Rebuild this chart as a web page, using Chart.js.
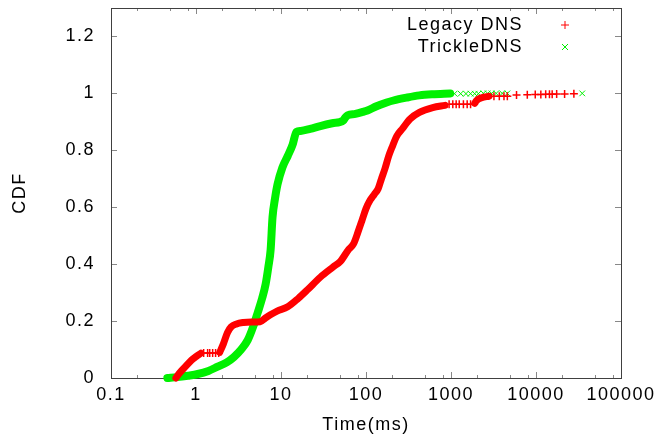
<!DOCTYPE html>
<html>
<head>
<meta charset="utf-8">
<script src="https://cdn.jsdelivr.net/npm/chart.js@4.4.1/dist/chart.umd.min.js"></script>
<style>
  html, body { margin: 0; padding: 0; background: #fff; }
  canvas { display: block; }
</style>
</head>
<body>
<canvas id="cdf" width="659" height="444"></canvas>
<script>
// series names
const seriesNames = ["Legacy DNS", "TrickleDNS"];

// Legacy DNS: dense part of the curve (drawn as a thick band)
const legacyX = [0.58, 0.63, 0.75, 0.88, 1.0, 1.14, null, 1.9, 2.1, 2.35, 2.6, 3.0, 3.6, 4.5, 5.7, 6.5, 7.5, 9, 12, 16, 20.5, 29, 41, 50, 62, 71, 82, 90, 100, 112, 125, 139, 152, 167, 185, 202, 230, 270, 330, 425, 610, 850, null, 1900, 2000, 2300, 2800];
const legacyY = [0.0, 0.015, 0.04, 0.062, 0.075, 0.087, null, 0.09, 0.12, 0.16, 0.18, 0.19, 0.195, 0.197, 0.198, 0.21, 0.222, 0.235, 0.25, 0.28, 0.31, 0.354, 0.39, 0.41, 0.45, 0.47, 0.52, 0.555, 0.595, 0.625, 0.645, 0.665, 0.7, 0.735, 0.78, 0.81, 0.85, 0.877, 0.91, 0.933, 0.95, 0.958, null, 0.965, 0.975, 0.985, 0.99];
// Legacy DNS: isolated samples (drawn as + marks)
const legacyMarkX = [1.23, 1.37, 1.45, 1.57, 1.7, 1.85, 950, 1050, 1150, 1250, 1400, 1550, 1700, 3200, 3700, 4200, 4600, 5900, 7900, 9800, 11400, 13000, 14400, 15500, 17500, 21700, 27900];
const legacyMarkY = [0.088, 0.088, 0.088, 0.088, 0.088, 0.088, 0.962, 0.962, 0.962, 0.962, 0.962, 0.962, 0.962, 0.99, 0.99, 0.99, 0.99, 0.994, 0.995, 0.996, 0.996, 0.997, 0.997, 0.997, 0.998, 0.998, 0.999];

// TrickleDNS: dense part of the curve
const trickleX = [0.46, 0.6, 0.8, 1.05, 1.4, 1.8, 2.3, 2.8, 3.4, 4.06, 4.7, 5.3, 6.0, 6.6, 7.1, 7.55, 7.95, 8.5, 9.1, 10.4, 12, 13.7, 15.2, 17, 22, 29, 40, 54, 57, 61, 75, 92, 104, 133, 175, 210, 300, 425, 600, 980];
const trickleY = [0.0, 0.003, 0.008, 0.014, 0.025, 0.04, 0.055, 0.074, 0.1, 0.133, 0.18, 0.228, 0.28, 0.33, 0.39, 0.45, 0.565, 0.63, 0.68, 0.74, 0.78, 0.82, 0.865, 0.868, 0.875, 0.885, 0.895, 0.905, 0.915, 0.923, 0.928, 0.935, 0.94, 0.955, 0.968, 0.975, 0.985, 0.993, 0.997, 1.0];
// TrickleDNS: isolated samples (drawn as x marks)
const trickleMarkX = [1100, 1300, 1500, 1700, 1900, 2100, 2400, 2700, 3000, 3400, 4000, 4600, 35000];
const trickleMarkY = [0.999, 0.999, 0.999, 0.999, 0.999, 0.999, 1.0, 1.0, 1.0, 1.0, 1.0, 1.0, 1.0];

// axes
const xTickValues = [0.1, 1, 10, 100, 1000, 10000, 100000];
const xTickLabels = ["0.1", "1", "10", "100", "1000", "10000", "100000"];
const xMinorSteps = [2, 5, 8];
const yTickValues = [0, 0.2, 0.4, 0.6, 0.8, 1, 1.2];
const yTickLabels = ["0", "0.2", "0.4", "0.6", "0.8", "1", "1.2"];

const RED = "#ff0000";
const GREEN = "#00f000";
const FONT = "Liberation Sans";

const toPoints = (xs, ys) => xs.map((x, i) => ({ x: x, y: ys[i] }));

// gnuplot-like frame, inward ticks on all four sides, and spacing of text
const gnuplotFrame = {
  id: "gnuplotFrame",
  beforeDraw(chart) {
    chart.ctx.letterSpacing = "1.5px";
  },
  beforeDatasetsDraw(chart) {
    const { ctx, chartArea: { top, bottom, left, right }, scales: { x, y } } = chart;
    ctx.save();
    ctx.lineWidth = 1;
    ctx.strokeStyle = "#888";
    ctx.beginPath();
    xTickValues.forEach((v) => {
      const px = Math.round(x.getPixelForValue(v)) + 0.5;
      ctx.moveTo(px, bottom); ctx.lineTo(px, bottom - 6);
      ctx.moveTo(px, top); ctx.lineTo(px, top + 6);
    });
    xTickValues.slice(0, -1).forEach((d) => {
      xMinorSteps.forEach((m) => {
        const px = Math.round(x.getPixelForValue(d * m)) + 0.5;
        ctx.moveTo(px, bottom); ctx.lineTo(px, bottom - 3);
        ctx.moveTo(px, top); ctx.lineTo(px, top + 3);
      });
    });
    yTickValues.forEach((v) => {
      const py = Math.round(y.getPixelForValue(v)) + 0.5;
      ctx.moveTo(left, py); ctx.lineTo(left + 6, py);
      ctx.moveTo(right, py); ctx.lineTo(right - 6, py);
    });
    ctx.stroke();
    ctx.strokeStyle = "#404040";
    ctx.strokeRect(Math.round(left) + 0.5, Math.round(top) + 0.5, Math.round(right - left), Math.round(bottom - top));
    ctx.restore();
  },
  afterDraw(chart) {
    // legend: text right aligned, marker on the right
    const { ctx } = chart;
    ctx.save();
    ctx.font = "18px " + FONT;
    ctx.fillStyle = "#000";
    ctx.textAlign = "right";
    ctx.textBaseline = "middle";
    const rows = [
      { text: seriesNames[0], y: 25, color: RED, style: "plus" },
      { text: seriesNames[1], y: 47, color: GREEN, style: "x" },
    ];
    rows.forEach((r) => {
      ctx.fillText(r.text, 523, r.y);
      const mx = 565, s = 4;
      ctx.strokeStyle = r.color;
      ctx.lineWidth = 1;
      ctx.beginPath();
      if (r.style === "plus") {
        ctx.moveTo(mx - s, r.y); ctx.lineTo(mx + s, r.y);
        ctx.moveTo(mx, r.y - s); ctx.lineTo(mx, r.y + s);
      } else {
        ctx.moveTo(mx - 3, r.y - 3); ctx.lineTo(mx + 3, r.y + 3);
        ctx.moveTo(mx - 3, r.y + 3); ctx.lineTo(mx + 3, r.y - 3);
      }
      ctx.stroke();
    });
    ctx.restore();
  },
};

const data = {
  datasets: [
    {
      label: seriesNames[0],
      data: toPoints(legacyX, legacyY),
      showLine: true,
      spanGaps: false,
      borderColor: RED,
      borderWidth: 7,
      borderCapStyle: "round",
      borderJoinStyle: "round",
      cubicInterpolationMode: "monotone",
      pointRadius: 0,
      clip: false,
    },
    {
      label: seriesNames[0] + " samples",
      data: toPoints(legacyMarkX, legacyMarkY),
      showLine: false,
      pointStyle: "cross",
      pointRadius: 4,
      borderColor: RED,
      borderWidth: 1.5,
      clip: false,
    },
    {
      label: seriesNames[1],
      data: toPoints(trickleX, trickleY),
      showLine: true,
      borderColor: GREEN,
      borderWidth: 8,
      borderCapStyle: "round",
      borderJoinStyle: "round",
      cubicInterpolationMode: "monotone",
      pointRadius: 0,
      clip: false,
    },
    {
      label: seriesNames[1] + " samples",
      data: toPoints(trickleMarkX, trickleMarkY),
      showLine: false,
      pointStyle: "crossRot",
      pointRadius: 4,
      borderColor: GREEN,
      borderWidth: 1,
      clip: false,
    },
  ],
};

const config = {
  type: "scatter",
  data,
  options: {
    responsive: false,
    animation: false,
    devicePixelRatio: 1,
    layout: { padding: { left: 0, right: 38, top: 8, bottom: 0 } },
    plugins: {
      legend: { display: false },
      tooltip: { enabled: false },
    },
    scales: {
      x: {
        type: "logarithmic",
        min: 0.1,
        max: 100000,
        grid: { display: false, drawTicks: false },
        border: { display: false },
        afterBuildTicks: (scale) => {
          scale.ticks = xTickValues.map((v) => ({ value: v, major: true }));
        },
        afterFit: (scale) => {
          scale.height = 66;
          scale.paddingLeft = 0;
          scale.paddingRight = 0;
        },
        ticks: {
          autoSkip: false,
          maxRotation: 0,
          padding: 6,
          color: "#000",
          font: { family: FONT, size: 18 },
          callback: (v, i) => xTickLabels[i],
        },
        title: {
          display: true,
          text: "Time(ms)",
          color: "#000",
          font: { family: FONT, size: 18 },
          padding: { top: 0, bottom: 8 },
        },
      },
      y: {
        min: 0,
        max: 1.3,
        grid: { display: false, drawTicks: false },
        border: { display: false },
        afterBuildTicks: (scale) => {
          scale.ticks = yTickValues.map((v) => ({ value: v }));
        },
        afterFit: (scale) => {
          scale.width = 111;
          scale.paddingTop = 0;
          scale.paddingBottom = 0;
        },
        ticks: {
          padding: 16,
          color: "#000",
          font: { family: FONT, size: 18 },
          callback: (v, i) => yTickLabels[i],
        },
        title: {
          display: true,
          text: "CDF",
          color: "#000",
          font: { family: FONT, size: 18 },
          padding: { top: 9, bottom: 0 },
        },
      },
    },
  },
  plugins: [gnuplotFrame],
};

const myChart = new Chart(document.getElementById("cdf"), config);
</script>
</body>
</html>
